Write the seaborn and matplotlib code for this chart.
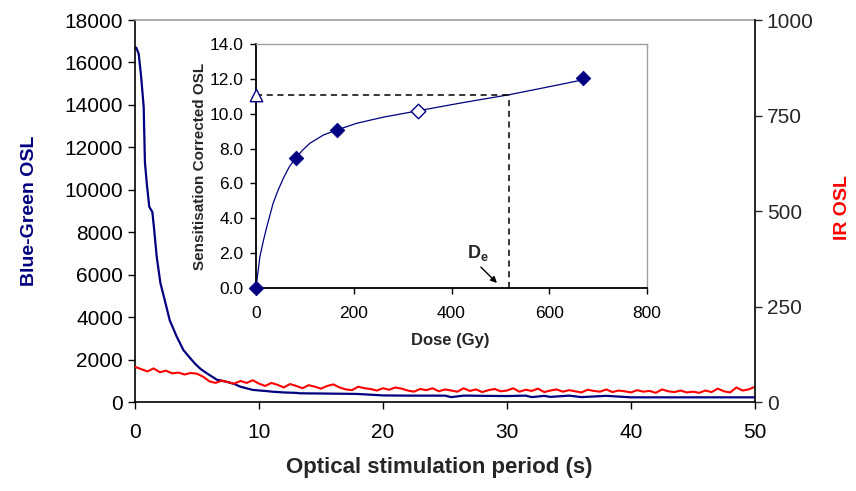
import numpy as np
import pandas as pd
import matplotlib
matplotlib.use("Agg")
import matplotlib.pyplot as plt
import seaborn as sns

sns.set_theme(style="ticks")
plt.rcParams["font.family"] = ["Liberation Sans", "DejaVu Sans"]
plt.rcParams["mathtext.fontset"] = "custom"
plt.rcParams["mathtext.rm"] = "Liberation Sans"
plt.rcParams["mathtext.bf"] = "Liberation Sans:bold"

# ---------------- data ----------------
blue_t = [0, 0.1, 0.3, 0.5, 0.7, 0.8, 0.95, 1.15, 1.4, 1.55, 1.75, 2.05, 2.4, 2.8, 3.35,
          3.9, 4.4, 4.85, 5.3, 5.8, 6.2, 6.6, 7.4, 8.0, 8.5, 9.5, 10.5, 11.1, 12.0, 13.0,
          13.3, 15.0, 17.9, 18.5, 20.0, 22.0, 23.5, 25.0, 25.5, 26.5, 27.0, 28.0, 30.0, 31.5,
          32.0, 33.0, 33.5, 35.0, 36.0, 38.0, 40.0, 41.0, 45.0, 50.0]
blue_osl = [16700, 16700, 16400, 15300, 13900, 11300, 10300, 9200, 8950, 8100,
            6850, 5600, 4800, 3850, 3100, 2450, 2100, 1800, 1550, 1350,
            1200, 1050, 950, 850, 720, 570, 520, 485, 450, 430,
            410, 400, 380, 360, 310, 300, 300, 300, 230, 300,
            300, 290, 280, 300, 230, 290, 240, 300, 230, 290,
            220, 220, 220, 220]

ir_t = np.linspace(0, 50, 101)
ir_osl = [92, 86, 80, 88, 78, 82, 75, 77, 72, 76,
          74, 66, 54, 50, 56, 52, 48, 55, 50, 57,
          48, 42, 50, 45, 38, 47, 42, 36, 44, 40,
          35, 42, 46, 38, 33, 31, 40, 36, 34, 30,
          36, 32, 38, 35, 30, 27, 34, 31, 36, 28,
          33, 30, 27, 36, 29, 33, 26, 31, 34, 28,
          30, 36, 27, 32, 29, 35, 26, 30, 33, 27,
          31, 28, 25, 32, 29, 27, 33, 26, 30, 28,
          25, 31, 27, 29, 24, 33, 28, 26, 30, 25,
          27, 24, 30, 26, 35, 28, 25, 38, 30, 33,
          40]

# inset: dose response
curve_dose = [0, 8, 15, 22, 35, 45, 56, 68, 82, 95, 110, 138, 166, 206, 260, 332, 420, 518, 600, 670]
curve_lx = [0, 1.8, 2.7, 3.5, 4.86, 5.6, 6.3, 6.95, 7.48, 7.9, 8.3, 8.78, 9.07, 9.45, 9.8,
            10.17, 10.62, 11.09, 11.55, 11.95]
reg_dose = [0, 82, 166, 670]
reg_lx = [0.0, 7.48, 9.07, 12.03]
recycle_dose = [332]
recycle_lx = [10.17]
natural_dose = [0]
natural_lx = [11.06]
de_dose = 518
de_lx = 11.09

navy = "#000080"
red = "#FF0000"

# ---------------- figure ----------------
fig = plt.figure(figsize=(8.56, 4.91), dpi=100)
ax = fig.add_axes([135 / 856, 1 - 402 / 491, 620 / 856, 382 / 491])
sns.lineplot(x=blue_t, y=blue_osl, ax=ax, color=navy, linewidth=1.6)
ax.set_xlim(0, 50)
ax.set_ylim(0, 18000)
ax.set_xticks([0, 10, 20, 30, 40, 50])
ax.set_yticks(range(0, 18001, 2000))
ax.tick_params(axis="both", labelsize=15, direction="out", length=5, width=1, colors="black")
ax.tick_params(axis="x", pad=10)
for s in ["left", "bottom"]:
    ax.spines[s].set_color("black")
    ax.spines[s].set_linewidth(1.2)
ax.spines["top"].set_color("#a0a0a0")
ax.spines["top"].set_linewidth(1.2)
ax.spines["right"].set_visible(False)
ax.set_xlabel("Optical stimulation period (s)", fontsize=16, fontweight="bold")
ax.xaxis.set_label_coords(0.49, -0.143)
ax.set_ylabel("Blue-Green OSL", fontsize=14, fontweight="bold", color=navy)
ax.yaxis.set_label_coords(-0.156, 0.5)

ax2 = ax.twinx()
sns.lineplot(x=ir_t, y=ir_osl, ax=ax2, color=red, linewidth=1.5)
ax2.set_ylim(0, 1000)
ax2.set_yticks([0, 250, 500, 750, 1000])
ax2.tick_params(axis="y", labelsize=15, direction="out", length=5, width=1)
ax2.spines["right"].set_color("black")
ax2.spines["right"].set_linewidth(1.2)
for s in ["left", "top", "bottom"]:
    ax2.spines[s].set_visible(False)
ax2.set_ylabel("IR OSL", fontsize=14, fontweight="bold", color=red)
ax2.yaxis.set_label_coords(1.128, 0.51)

# ---------------- inset ----------------
ins = fig.add_axes([256 / 856, 1 - 288 / 491, 391 / 856, 244 / 491])
ins.set_facecolor("white")
ins.set_zorder(5)
sns.lineplot(x=curve_dose, y=curve_lx, ax=ins, color=navy, linewidth=0.9)
ins.plot([0, de_dose], [de_lx, de_lx], color="black", linestyle=(0, (4, 3)), linewidth=1.1)
ins.plot([de_dose, de_dose], [0, de_lx], color="black", linestyle=(0, (4, 3)), linewidth=1.1)
sns.scatterplot(x=reg_dose, y=reg_lx, ax=ins, marker="D", s=55, color=navy,
                edgecolor=navy, zorder=6, clip_on=False)
sns.scatterplot(x=recycle_dose, y=recycle_lx, ax=ins, marker="D", s=55, color="white",
                edgecolor=navy, linewidth=1.0, zorder=6, clip_on=False)
sns.scatterplot(x=natural_dose, y=natural_lx, ax=ins, marker="^", s=80, color="white",
                edgecolor=navy, linewidth=1.0, zorder=6, clip_on=False)
ins.set_xlim(0, 800)
ins.set_ylim(0, 14)
ins.set_xticks([0, 200, 400, 600, 800])
ins.set_yticks(np.arange(0, 14.1, 2))
ins.set_yticklabels([f"{v:.1f}" for v in np.arange(0, 14.1, 2)])
ins.tick_params(axis="both", labelsize=12.5, direction="out", length=4, width=1, colors="black")
ins.tick_params(axis="x", pad=9)
ins.tick_params(axis="y", pad=5)
for s in ["left", "bottom"]:
    ins.spines[s].set_color("black")
    ins.spines[s].set_linewidth(1.3)
for s in ["top", "right"]:
    ins.spines[s].set_color("#a0a0a0")
    ins.spines[s].set_linewidth(1.0)
ins.set_xlabel("Dose (Gy)", fontsize=12, fontweight="bold")
ins.xaxis.set_label_coords(0.496, -0.185)
ins.set_ylabel("Sensitisation Corrected OSL", fontsize=11, fontweight="bold")
ins.yaxis.set_label_coords(-0.125, 0.5)
ins.text(455, 2.0, r"$\mathbf{D_e}$", fontsize=13, ha="center", va="center")
ins.annotate("", xy=(493, 0.29), xytext=(460, 1.2),
             arrowprops=dict(arrowstyle="-|>", color="black", lw=1.0, mutation_scale=9,
                             shrinkA=0, shrinkB=0))

fig.savefig("out.png", dpi=100)
